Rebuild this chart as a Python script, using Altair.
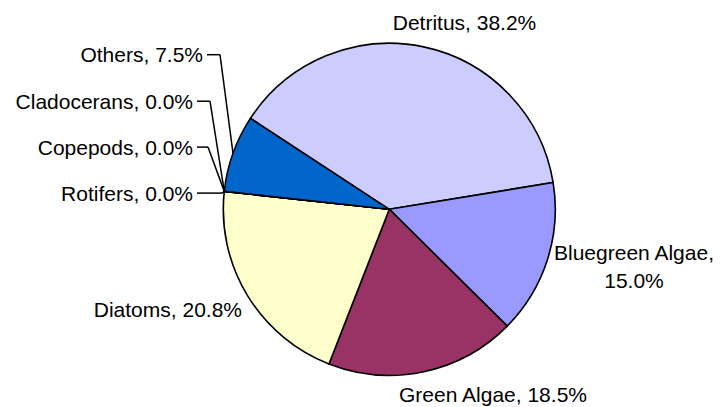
import math
import altair as alt
import pandas as pd

# ---- data ----
categories = ["Detritus", "Bluegreen Algae", "Green Algae", "Diatoms",
              "Rotifers", "Copepods", "Cladocerans", "Others"]
values = [38.2, 15.0, 18.5, 20.8, 0.0, 0.0, 0.0, 7.5]
colors = ["#CCCCFF", "#9999FF", "#993366", "#FFFFCC",
          "#FFFF99", "#99CCFF", "#FF99CC", "#0066CC"]

# ---- layout ----
W, H = 707, 399
CX, CY, R = 381.3, 201.3, 166
START_DEG = -56.8
FONT = "Liberation Sans"
FS = 21

# label anchor (x, baseline y, align), leader elbow (None = no leader)
label_x = [456.5, 626, 485, 234, 185, 185, 185, 195]
label_y = [22, 252, 393.7, 309, 192.7, 146.7, 100.8, 54.3]
label_align = ["center", "center", "center", "right", "right", "right", "right", "right"]
elbow_x = [None, None, None, None, 214, 200, 202, 212]

start = math.radians(START_DEG) + 2 * math.pi
df = pd.DataFrame({"cat": categories, "value": values, "idx": list(range(len(values)))})

pie = alt.Chart(df).mark_arc(outerRadius=R, stroke="black", strokeWidth=1.6).encode(
    theta=alt.Theta("value:Q", stack=True,
                    scale=alt.Scale(range=[start, start + 2 * math.pi])),
    color=alt.Color("cat:N", scale=alt.Scale(domain=categories, range=colors), legend=None),
    order=alt.Order("idx:Q"),
    x=alt.value(CX), y=alt.value(CY),
)

# labels
texts = []
for c, v in zip(categories, values):
    if c == "Bluegreen Algae":
        texts.append(f"{c},\n{v:.1f}%")
    else:
        texts.append(f"{c}, {v:.1f}%")
lab = pd.DataFrame({"text": texts, "x": label_x, "y": label_y, "align": label_align})

xs = alt.Scale(domain=[0, W], range=[0, W])
ys = alt.Scale(domain=[0, H], range=[0, H])

def text_layer(d, align):
    return alt.Chart(d).mark_text(font=FONT, fontSize=FS, color="black", align=align,
                                  baseline="alphabetic", lineBreak="\n", lineHeight=28).encode(
        x=alt.X("x:Q", scale=xs, axis=None),
        y=alt.Y("y:Q", scale=ys, axis=None),
        text="text:N",
    )

tl_c = text_layer(lab[lab["align"] == "center"], "center")
tl_r = text_layer(lab[lab["align"] == "right"], "right")

# leader lines computed from slice mid-angles
cum = 0.0
segs = []
total = sum(values)
for i, v in enumerate(values):
    mid = start + 2 * math.pi * (cum + v / 2) / total
    cum += v
    if elbow_x[i] is None:
        continue
    px = CX + R * math.sin(mid)
    py = CY - R * math.cos(mid)
    ly = label_y[i] - 7.6
    lx = label_x[i] + 4
    segs.append({"x": lx, "y": ly, "x2": elbow_x[i], "y2": ly})
    segs.append({"x": elbow_x[i], "y": ly, "x2": px, "y2": py})
seg = pd.DataFrame(segs)

leaders = alt.Chart(seg).mark_rule(color="black", strokeWidth=1.5).encode(
    x=alt.X("x:Q", scale=xs, axis=None), x2="x2:Q",
    y=alt.Y("y:Q", scale=ys, axis=None), y2="y2:Q",
)

chart = alt.layer(pie, leaders, tl_c, tl_r).properties(
    width=W, height=H, padding=0,
    autosize=alt.AutoSizeParams(type="none"),
).configure_view(stroke=None)

chart.save("out.html", embed_options={"renderer": "svg", "actions": False})
